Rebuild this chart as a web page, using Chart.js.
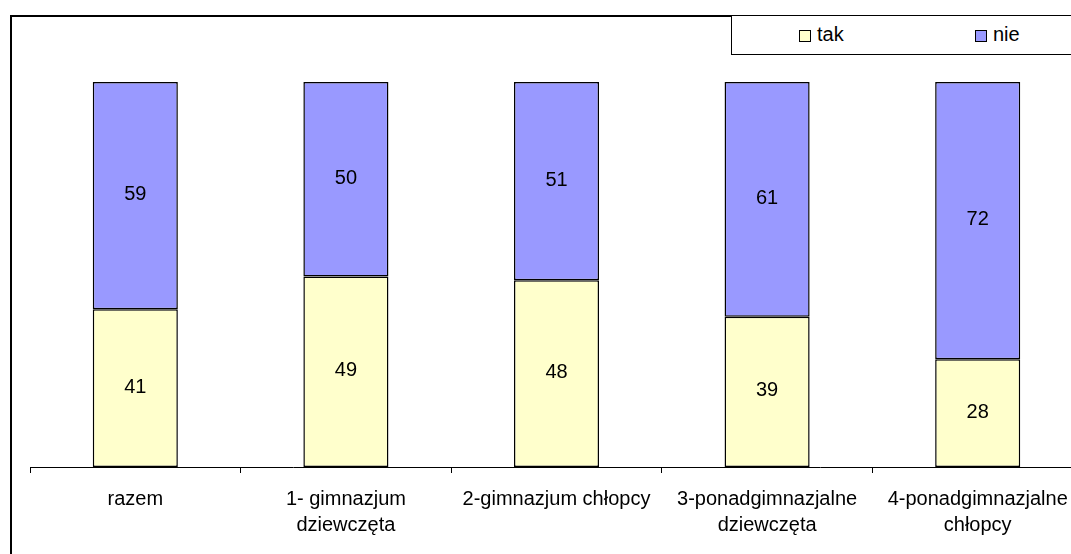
<!DOCTYPE html>
<html>
<head>
<meta charset="utf-8">
<script src="https://cdn.jsdelivr.net/npm/chart.js@4/dist/chart.umd.min.js"></script>
<style>
	html, body { margin: 0; padding: 0; background: #fff; overflow: hidden; }
	body { width: 1071px; height: 554px; position: relative; font-family: 'Liberation Sans', Arial, sans-serif; }
	#frame { position: absolute; left: 10px; top: 15px; width: 1200px; height: 700px; border-left: 2px solid #000; border-top: 2px solid #000; }
	#wrap { position: absolute; left: 0; top: 0; width: 1100px; height: 554px; }
	#legend { position: absolute; left: 731px; top: 16px; width: 400px; height: 38px; border-left: 1px solid #000; border-bottom: 1px solid #000; background: #fff; }
	.item { position: absolute; top: 8px; font-size: 20px; line-height: 20px; color: #000; }
	.sw { display: inline-block; width: 10px; height: 10px; border: 1px solid #000; margin-right: 6px; vertical-align: -1px; }
</style>
</head>
<body>
<div id="frame"></div>
<div id="wrap"><canvas id="chart" width="1100" height="554"></canvas></div>
<div id="legend"></div>
<script>
const categories = [
	['razem'],
	['1- gimnazjum', 'dziewczęta'],
	['2-gimnazjum chłopcy'],
	['3-ponadgimnazjalne', 'dziewczęta'],
	['4-ponadgimnazjalne', 'chłopcy'],
]
const takValues = [41, 49, 48, 39, 28]
const nieValues = [59, 50, 51, 61, 72]
const seriesNames = ['tak', 'nie']
const seriesColors = ['#FFFFCC', '#9999FF']

const FONT = "'Liberation Sans', Arial, sans-serif"

// 100% stacked, like the spreadsheet chart
const toPct = (a, b) => a.map((v, i) => (v / (v + b[i])) * 100)

// legend box in the top right corner
const legendPos = [798, 974]
const legend = document.getElementById('legend')
seriesNames.forEach((name, i) => {
	const el = document.createElement('div')
	el.className = 'item'
	el.style.left = legendPos[i] - 731 + 'px'
	el.innerHTML = `<span class="sw" style="background:${seriesColors[i]}"></span>${name}`
	legend.appendChild(el)
})

const valueLabels = {
	id: 'valueLabels',
	afterDatasetsDraw(chart) {
		const ctx = chart.ctx
		ctx.save()
		ctx.font = `20px ${FONT}`
		ctx.fillStyle = '#000'
		ctx.textAlign = 'center'
		ctx.textBaseline = 'middle'
		chart.data.datasets.forEach((ds, di) => {
			chart.getDatasetMeta(di).data.forEach((bar, i) => {
				const y = (bar.y + bar.base) / 2 - 1
				ctx.fillText(String(ds.raw[i]), bar.x, y)
			})
		})
		ctx.restore()
	},
}

new Chart(document.getElementById('chart'), {
	type: 'bar',
	data: {
		labels: categories,
		datasets: [
			{ label: 'tak', raw: takValues, data: toPct(takValues, nieValues), backgroundColor: seriesColors[0] },
			{ label: 'nie', raw: nieValues, data: toPct(nieValues, takValues), backgroundColor: seriesColors[1] },
		].map(d => ({ ...d, borderColor: '#000', borderWidth: 1.5, borderSkipped: false, categoryPercentage: 1, barPercentage: 0.404 })),
	},
	plugins: [valueLabels],
	options: {
		responsive: false,
		animation: false,
		layout: { padding: { left: 30, right: 17, top: 82, bottom: 0 } },
		plugins: { legend: { display: false }, tooltip: { enabled: false } },
		scales: {
			x: {
				stacked: true,
				afterFit: s => { s.height = 87 },
				grid: { display: true, drawOnChartArea: false, tickLength: 6, color: '#000', offset: true },
				border: { color: '#000', width: 1 },
				ticks: { color: '#000', font: { family: FONT, size: 20, lineHeight: 1.3 }, padding: 13, maxRotation: 0, autoSkip: false },
			},
			y: { stacked: true, display: false, min: 0, max: 100 },
		},
	},
})
</script>
</body>
</html>
